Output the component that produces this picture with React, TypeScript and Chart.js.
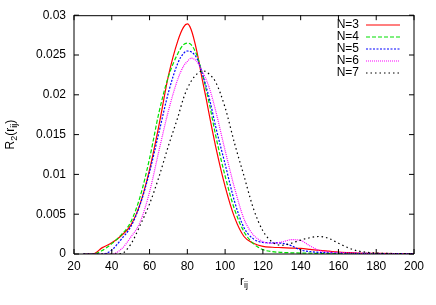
import React, { useEffect, useRef } from "react";
import { Chart, registerables } from "chart.js";

Chart.register(...registerables);

// r_ij sample positions
const rValues = [25, 30, 35, 40, 45, 50, 55, 60, 65, 70, 75, 78, 80, 82, 85, 88, 90, 92, 95, 100, 105, 110, 115, 120, 125, 130, 135, 140, 145, 150, 155, 160, 165, 170, 180, 190, 200];

// R2(r_ij) values (in units of 1e-3)
const n3 = [0, 0, 0.8, 1.4, 2.3, 3.6, 6.3, 10.6, 16.2, 22.4, 26.8, 28.5, 28.9, 28.2, 25.5, 21.8, 19.5, 17.0, 13.5, 8.5, 4.6, 2.2, 1.35, 0.95, 0.85, 0.8, 0.75, 0.7, 0.58, 0.45, 0.35, 0.25, 0.18, 0.12, 0.07, 0.04, 0.02];
const n4 = [0, 0, 0.45, 1.3, 2.4, 4.0, 7.2, 12.0, 17.8, 22.3, 25.2, 26.3, 26.5, 26.3, 25.0, 22.6, 20.6, 18.5, 14.9, 9.8, 5.6, 2.8, 1.3, 0.55, 0.3, 0.2, 0.15, 0.12, 0.1, 0.08, 0.07, 0.06, 0.05, 0.05, 0.04, 0.03, 0.02];
const n5 = [0, 0, 0, 0.5, 1.85, 3.4, 6.2, 10.3, 15.3, 20.3, 24.0, 25.2, 25.5, 25.4, 24.6, 22.6, 21.0, 19.2, 16.0, 11.3, 6.6, 3.3, 1.9, 1.45, 1.4, 1.35, 1.05, 0.5, 0.3, 0.2, 0.15, 0.12, 0.1, 0.08, 0.06, 0.05, 0.04];
const n6 = [0, 0, 0, 0, 0.6, 2.1, 4.0, 7.8, 13.0, 18.0, 22.0, 23.6, 24.2, 24.6, 24.2, 22.9, 21.9, 20.6, 18.0, 13.0, 8.3, 4.4, 2.4, 1.55, 1.35, 1.5, 1.8, 1.7, 1.0, 0.45, 0.25, 0.18, 0.12, 0.1, 0.06, 0.05, 0.04];
const n7 = [0, 0, 0, 0, 0.05, 1.2, 3.6, 6.3, 9.7, 13.6, 17.2, 19.6, 20.8, 21.7, 22.6, 23.0, 22.9, 22.5, 21.6, 18.4, 13.9, 9.8, 5.7, 2.9, 1.5, 1.1, 1.35, 1.75, 2.05, 2.2, 1.95, 1.35, 0.8, 0.4, 0.12, 0.06, 0.04];

const seriesLabels = ["N=3", "N=4", "N=5", "N=6", "N=7"];
const seriesColors = ["#ff0000", "#00e000", "#0000ff", "#ff00ff", "#000000"];
const seriesDashes: number[][] = [[], [4, 2], [2, 1.5], [1, 1], [1.5, 3]];

const xTicks = [20, 40, 60, 80, 100, 120, 140, 160, 180, 200];
const yTicks = [0, 0.005, 0.01, 0.015, 0.02, 0.025, 0.03];
const yTickLabels = ["0", "0.005", "0.01", "0.015", "0.02", "0.025", "0.03"];

const FONT = '"Liberation Sans", Arial, Helvetica, sans-serif';

const framePlugin = {
  id: "gnuplotFrame",
  afterDatasetsDraw(chart: any) {
    const { ctx, chartArea } = chart;
    const { left, right, top, bottom } = chartArea;
    const xs = chart.scales.x;
    const ys = chart.scales.y;
    ctx.save();
    ctx.strokeStyle = "#000";
    ctx.lineWidth = 1;
    ctx.setLineDash([]);
    // border
    ctx.beginPath();
    ctx.moveTo(left, top + 0.5);
    ctx.lineTo(right, top + 0.5);
    ctx.moveTo(left, top);
    ctx.lineTo(left, bottom);
    ctx.moveTo(left, bottom);
    ctx.lineTo(right, bottom);
    ctx.moveTo(right, top);
    ctx.lineTo(right, bottom);
    ctx.stroke();
    // ticks (inside, mirrored)
    const tl = 5;
    ctx.beginPath();
    xTicks.forEach((v) => {
      const px = xs.getPixelForValue(v);
      ctx.moveTo(px, bottom);
      ctx.lineTo(px, bottom - tl);
      ctx.moveTo(px, top);
      ctx.lineTo(px, top + tl);
    });
    yTicks.forEach((v) => {
      const py = ys.getPixelForValue(v);
      ctx.moveTo(left, py);
      ctx.lineTo(left + tl, py);
      ctx.moveTo(right, py);
      ctx.lineTo(right - tl, py);
    });
    ctx.stroke();

    // legend
    ctx.font = `12px ${FONT}`;
    ctx.fillStyle = "#000";
    ctx.textAlign = "right";
    ctx.textBaseline = "middle";
    chart.data.datasets.forEach((ds: any, i: number) => {
      const ly = 24.5 + i * 12.1;
      ctx.fillText(seriesLabels[i], 359, ly);
      ctx.save();
      ctx.strokeStyle = ds.borderColor;
      ctx.lineWidth = ds.borderWidth;
      ctx.setLineDash(ds.borderDash || []);
      ctx.beginPath();
      ctx.moveTo(366, Math.round(ly));
      ctx.lineTo(400, Math.round(ly));
      ctx.stroke();
      ctx.restore();
    });

    // axis titles
    ctx.textAlign = "left";
    ctx.textBaseline = "alphabetic";
    const big = `12px ${FONT}`;
    const small = `9px ${FONT}`;
    // x title: r_ij
    {
      ctx.font = big;
      const wr = ctx.measureText("r").width;
      ctx.font = small;
      const wij = ctx.measureText("ij").width;
      const total = wr + wij;
      const cx = (left + right) / 2;
      const x0 = cx - total / 2;
      const base = 285;
      ctx.font = big;
      ctx.fillText("r", x0, base);
      ctx.font = small;
      ctx.fillText("ij", x0 + wr, base + 3);
    }
    // y title: R_2(r_ij)
    {
      const parts: [string, boolean][] = [["R", false], ["2", true], ["(r", false], ["ij", true], [")", false]];
      let total = 0;
      const widths = parts.map(([t, sub]) => {
        ctx.font = sub ? small : big;
        const w = ctx.measureText(t).width;
        total += w;
        return w;
      });
      ctx.translate(13.5, (top + bottom) / 2);
      ctx.rotate(-Math.PI / 2);
      let x = -total / 2;
      parts.forEach(([t, sub], i) => {
        ctx.font = sub ? small : big;
        ctx.fillText(t, x, sub ? 3 : 0);
        x += widths[i];
      });
    }
    ctx.restore();
  },
};

export default function App() {
  const ref = useRef<HTMLCanvasElement>(null);
  useEffect(() => {
    if (!ref.current) return;
    const allSeries = [n3, n4, n5, n6, n7];
    const datasets = allSeries.map((vals, i) => ({
      label: seriesLabels[i],
      data: rValues.map((r, k) => ({ x: r, y: vals[k] / 1000 })),
      borderColor: seriesColors[i],
      backgroundColor: seriesColors[i],
      borderWidth: 1.2,
      borderDash: seriesDashes[i],
      pointRadius: 0,
      fill: false,
      cubicInterpolationMode: "monotone" as const,
      order: 4 - i,
    }));
    const chart = new Chart(ref.current, {
      type: "line",
      data: { datasets },
      options: {
        animation: false,
        responsive: false,
        maintainAspectRatio: false,
        layout: { padding: { top: 14, right: 22, left: 0, bottom: 0 } },
        plugins: { legend: { display: false }, tooltip: { enabled: false } },
        scales: {
          x: {
            type: "linear",
            min: 20,
            max: 200,
            grid: { display: false, drawTicks: false },
            border: { display: false },
            afterBuildTicks: (s: any) => {
              s.ticks = xTicks.map((v) => ({ value: v }));
            },
            afterFit: (s: any) => {
              s.height = 51;
            },
            ticks: {
              autoSkip: false,
              maxRotation: 0,
              padding: 5,
              color: "#000",
              font: { family: FONT, size: 12 },
              callback: (v: any) => String(v),
            },
          },
          y: {
            type: "linear",
            min: 0,
            max: 0.03,
            grid: { display: false, drawTicks: false },
            border: { display: false },
            afterBuildTicks: (s: any) => {
              s.ticks = yTicks.map((v) => ({ value: v }));
            },
            afterFit: (s: any) => {
              s.width = 74;
            },
            ticks: {
              autoSkip: false,
              padding: 8,
              color: "#000",
              font: { family: FONT, size: 12 },
              callback: (v: any) => {
                const idx = yTicks.indexOf(v);
                return idx >= 0 ? yTickLabels[idx] : "";
              },
            },
          },
        },
      },
      plugins: [framePlugin],
    });
    return () => chart.destroy();
  }, []);
  return (
    <div style={{ position: "fixed", left: 0, top: 0, width: 436, height: 305, background: "#fff" }}>
      <canvas ref={ref} width={436} height={305} style={{ width: 436, height: 305, display: "block" }} />
    </div>
  );
}
